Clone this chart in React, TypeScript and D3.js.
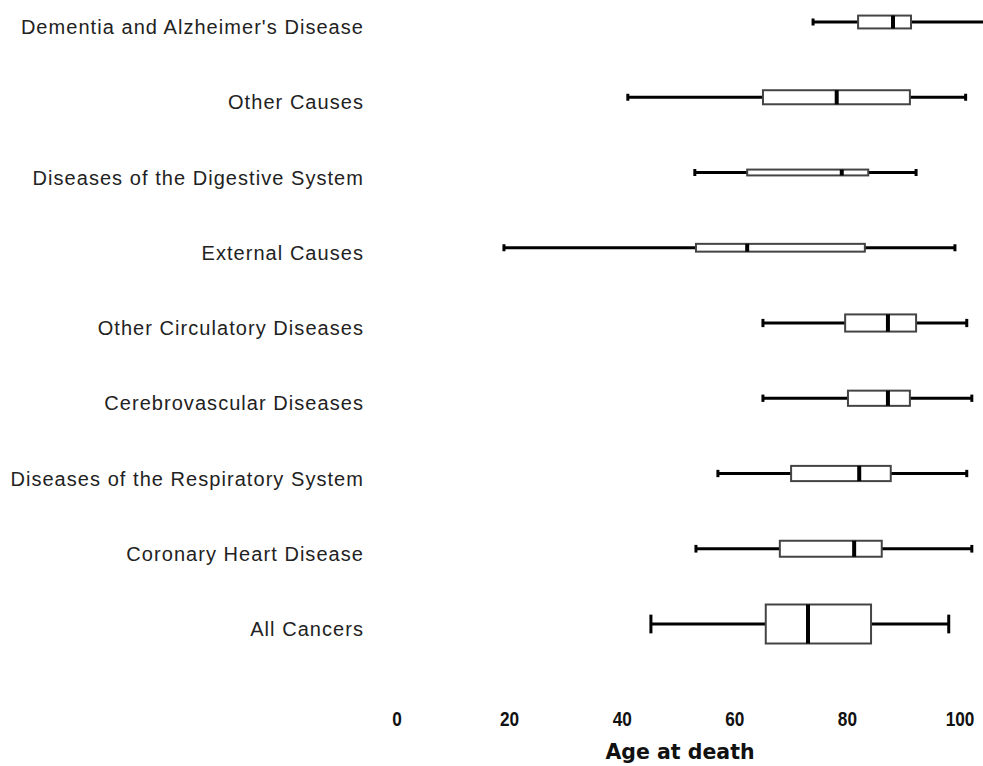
import React from "react";
import * as d3 from "d3";

const categories = [
  "Dementia and Alzheimer's Disease",
  "Other Causes",
  "Diseases of the Digestive System",
  "External Causes",
  "Other Circulatory Diseases",
  "Cerebrovascular Diseases",
  "Diseases of the Respiratory System",
  "Coronary Heart Disease",
  "All Cancers",
];
const whiskerLow = [73.9, 41.0, 52.9, 19.0, 65.0, 65.0, 57.0, 53.1, 45.1];
const q1 = [81.9, 65.0, 62.2, 53.1, 79.6, 80.1, 70.0, 68.0, 65.5];
const median = [88.1, 78.1, 79.0, 62.2, 87.2, 87.2, 82.1, 81.2, 73.0];
const q3 = [91.3, 91.1, 83.7, 83.1, 92.2, 91.1, 87.7, 86.1, 84.2];
const whiskerHigh = [104.5, 101.0, 92.2, 99.1, 101.2, 102.1, 101.2, 102.1, 98.0];
// relative box widths (varwidth ~ group size)
const relWidth = [0.33, 0.36, 0.15, 0.2, 0.44, 0.39, 0.39, 0.41, 1.0];
const xTicks = [0, 20, 40, 60, 80, 100];
const xTitle = "Age at death";

const W = 983;
const H = 766;

export default function App() {
  const x = d3.scaleLinear().domain([0, 100]).range([397, 960]);
  const y = d3.scalePoint<string>().domain(categories).range([22, 624]);
  const hScale = d3.scaleLinear().domain([0, 1]).range([0, 39]);

  return (
    <svg
      width={W}
      height={H}
      style={{ position: "absolute", left: 0, top: 0, background: "#fff" }}
    >
      {categories.map((c, i) => {
        const cy = y(c) as number;
        const bh = hScale(relWidth[i]);
        const cap = Math.max(7, bh * 0.48);
        return (
          <g key={c}>
            <text
              x={364}
              y={cy + 5}
              dy="0.36em"
              textAnchor="end"
              fontFamily="Liberation Sans, Arial, sans-serif"
              fontSize={20}
              letterSpacing={1.05}
              fill="#222"
            >
              {c}
            </text>
            <line x1={x(whiskerLow[i])} x2={x(q1[i])} y1={cy} y2={cy} stroke="#000" strokeWidth={3} />
            <line x1={x(q3[i])} x2={x(whiskerHigh[i])} y1={cy} y2={cy} stroke="#000" strokeWidth={3} />
            <line x1={x(whiskerLow[i])} x2={x(whiskerLow[i])} y1={cy - cap / 2} y2={cy + cap / 2} stroke="#000" strokeWidth={3} />
            <line x1={x(whiskerHigh[i])} x2={x(whiskerHigh[i])} y1={cy - cap / 2} y2={cy + cap / 2} stroke="#000" strokeWidth={3} />
            <rect
              x={x(q1[i])}
              y={cy - bh / 2}
              width={x(q3[i]) - x(q1[i])}
              height={bh}
              fill="#fff"
              stroke="#444"
              strokeWidth={2}
            />
            <line x1={x(median[i])} x2={x(median[i])} y1={cy - bh / 2} y2={cy + bh / 2} stroke="#000" strokeWidth={4} />
          </g>
        );
      })}
      {xTicks.map((t) => (
        <g key={t} transform={`translate(${x(t)},718) scale(0.82,1)`}>
          <text
            dy="0.36em"
            textAnchor="middle"
            fontFamily="Liberation Sans, Arial, sans-serif"
            fontWeight="bold"
            fontSize={21}
            fill="#111"
          >
            {t}
          </text>
        </g>
      ))}
      <text
        x={680}
        y={752}
        dy="0.36em"
        textAnchor="middle"
        fontFamily="DejaVu Sans, Verdana, sans-serif"
        fontWeight="bold"
        fontSize={20.5}
        fill="#111"
      >
        {xTitle}
      </text>
    </svg>
  );
}
